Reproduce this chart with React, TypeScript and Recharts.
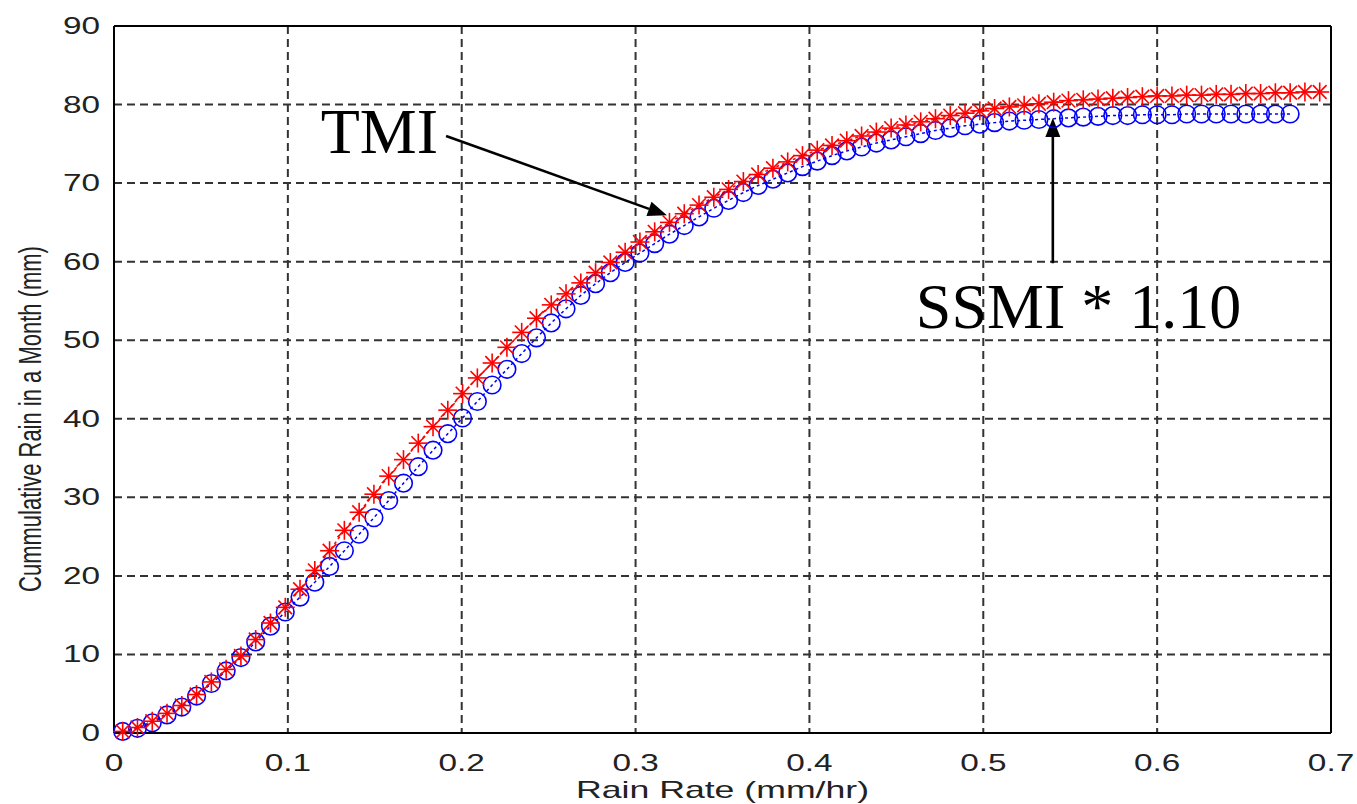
import React from "react";
import {
  LineChart, Line, XAxis, YAxis, CartesianGrid, ReferenceLine,
} from "recharts";

// rain rate (mm/hr) at each marker
const RATE = [
  0.0050, 0.0135, 0.0220, 0.0305, 0.0390, 0.0475, 0.0560, 0.0645, 0.0730, 0.0815,
  0.0900, 0.0985, 0.1070, 0.1155, 0.1240, 0.1325, 0.1410, 0.1495, 0.1580, 0.1665,
  0.1750, 0.1835, 0.1920, 0.2005, 0.2090, 0.2175, 0.2260, 0.2345, 0.2430, 0.2515,
  0.2600, 0.2685, 0.2770, 0.2855, 0.2940, 0.3025, 0.3110, 0.3195, 0.3280, 0.3365,
  0.3450, 0.3535, 0.3620, 0.3705, 0.3790, 0.3875, 0.3960, 0.4045, 0.4130, 0.4215,
  0.4300, 0.4385, 0.4470, 0.4555, 0.4640, 0.4725, 0.4810, 0.4895, 0.4980, 0.5065,
  0.5150, 0.5235, 0.5320, 0.5405, 0.5490, 0.5575, 0.5660, 0.5745, 0.5830, 0.5915,
  0.6000, 0.6085, 0.6170, 0.6255, 0.6340, 0.6425, 0.6510, 0.6595, 0.6680, 0.6765,
  0.6850, 0.6935,
];

// cumulative rain (mm), SSMI * 1.10
const SSMI = [
  0.2, 0.6, 1.3, 2.3, 3.3, 4.7, 6.3, 7.9, 9.6, 11.6,
  13.6, 15.4, 17.3, 19.2, 21.2, 23.2, 25.3, 27.4, 29.6, 31.8,
  33.9, 36.0, 38.1, 40.1, 42.2, 44.3, 46.3, 48.3, 50.3, 52.2,
  54.0, 55.7, 57.2, 58.6, 59.9, 61.1, 62.3, 63.5, 64.6, 65.7,
  66.8, 67.8, 68.8, 69.7, 70.5, 71.3, 72.1, 72.8, 73.5, 74.1,
  74.6, 75.1, 75.5, 75.9, 76.3, 76.7, 77.0, 77.3, 77.5, 77.7,
  77.9, 78.0, 78.1, 78.2, 78.3, 78.4, 78.5, 78.6, 78.6, 78.7,
  78.7, 78.7, 78.8, 78.8, 78.8, 78.8, 78.8, 78.8, 78.8, 78.8,
];

// cumulative rain (mm), TMI
const TMI = [
  0.2, 0.7, 1.5, 2.5, 3.5, 4.9, 6.5, 8.1, 9.8, 11.9,
  14.0, 16.0, 18.3, 20.7, 23.2, 25.8, 28.1, 30.4, 32.7, 34.8,
  36.9, 39.0, 41.1, 43.2, 45.2, 47.1, 49.1, 51.0, 52.8, 54.5,
  55.9, 57.3, 58.6, 59.9, 61.2, 62.5, 63.8, 65.0, 66.1, 67.2,
  68.2, 69.2, 70.2, 71.1, 71.9, 72.7, 73.5, 74.2, 74.8, 75.4,
  76.0, 76.5, 77.0, 77.4, 77.8, 78.2, 78.6, 78.9, 79.2, 79.5,
  79.7, 79.9, 80.1, 80.3, 80.5, 80.6, 80.7, 80.8, 80.9, 81.0,
  81.1, 81.1, 81.2, 81.2, 81.3, 81.3, 81.4, 81.4, 81.5, 81.5,
  81.6, 81.6,
];

const X_TICKS = [0, 0.1, 0.2, 0.3, 0.4, 0.5, 0.6, 0.7];
const Y_TICKS = [0, 10, 20, 30, 40, 50, 60, 70, 80, 90];

const ssmiData = SSMI.map((y, i) => ({ x: RATE[i], y }));
const tmiData = TMI.map((y, i) => ({ x: RATE[i], y }));

const FONT = "'Liberation Sans', Arial, sans-serif";
const SERIF = "'Liberation Serif', 'Times New Roman', serif";

function Circle(props: any) {
  const { cx, cy } = props;
  if (cx == null || cy == null) return null;
  return <circle cx={cx} cy={cy} r={8.8} fill="none" stroke="#0000ff" strokeWidth={1.6} />;
}

function Star(props: any) {
  const { cx, cy } = props;
  if (cx == null || cy == null) return null;
  const r = 9.5;
  const d = r * 0.72;
  return (
    <g stroke="#ff0000" strokeWidth={1.6}>
      <line x1={cx - r} y1={cy} x2={cx + r} y2={cy} />
      <line x1={cx} y1={cy - r} x2={cx} y2={cy + r} />
      <line x1={cx - d} y1={cy - d} x2={cx + d} y2={cy + d} />
      <line x1={cx - d} y1={cy + d} x2={cx + d} y2={cy - d} />
    </g>
  );
}

function XTick(props: any) {
  const { x, y, payload } = props;
  return (
    <text transform={`translate(${x},${y + 22}) scale(1.45,1)`} textAnchor="middle" dy="0.35em"
      fontFamily={FONT} fontSize={23} fill="#222">
      {payload.value}
    </text>
  );
}

function YTick(props: any) {
  const { y, payload } = props;
  return (
    <text transform={`translate(100,${y}) scale(1.45,1)`} textAnchor="end" dy="0.35em"
      fontFamily={FONT} fontSize={23} fill="#222">
      {payload.value}
    </text>
  );
}

function arrow(text: string, dx: number, dy: number, anchor: string) {
  return (p: any) => {
    const { x1, y1, x2, y2 } = p;
    const ang = Math.atan2(y2 - y1, x2 - x1);
    const L = 19, W = 7.5;
    const bx = x2 - L * Math.cos(ang), by = y2 - L * Math.sin(ang);
    const nx = -Math.sin(ang), ny = Math.cos(ang);
    return (
      <g>
        <line x1={x1} y1={y1} x2={bx} y2={by} stroke="#000" strokeWidth={2.6} />
        <polygon points={`${x2},${y2} ${bx + nx * W},${by + ny * W} ${bx - nx * W},${by - ny * W}`} fill="#000" />
        <text x={x1 + dx} y={y1 + dy} textAnchor={anchor} fontFamily={SERIF} fontSize={64} fill="#000">
          {text}
        </text>
      </g>
    );
  };
}

export default function App() {
  return (
    <div style={{ position: "absolute", left: 0, top: 0, width: 1357, height: 804, background: "#fff" }}>
      <LineChart width={1357} height={804} margin={{ top: 26, right: 26, left: 0, bottom: 0 }}>
        <CartesianGrid stroke="#333" strokeWidth={2} strokeDasharray="8 5" />
        <XAxis dataKey="x" type="number" domain={[0, 0.7]} ticks={X_TICKS} height={71}
          axisLine={{ stroke: "#000", strokeWidth: 2 }} tickLine={false} tick={<XTick />}
          label={{
            content: (lp: any) => {
              const vb = lp.viewBox;
              return (
                <text transform={`translate(${vb.x + vb.width / 2},798) scale(1.55,1)`} textAnchor="middle"
                  fontFamily={FONT} fontSize={23} fill="#222">Rain Rate (mm/hr)</text>
              );
            },
          }} />
        <YAxis type="number" domain={[0, 90]} ticks={Y_TICKS} width={114}
          axisLine={{ stroke: "#000", strokeWidth: 2 }} tickLine={false} tick={<YTick />}
          label={{
            content: () => (
              <text transform="translate(41,419) rotate(-90) scale(1,1.45)" textAnchor="middle"
                fontFamily={FONT} fontSize={22} fill="#222">Cummulative Rain in a Month (mm)</text>
            ),
          }} />
        <ReferenceLine y={90} stroke="#000" strokeWidth={2} />
        <ReferenceLine x={0.7} stroke="#000" strokeWidth={2} />
        <Line data={ssmiData} dataKey="y" stroke="#0000ff" strokeWidth={1.5} strokeDasharray="3 3"
          dot={<Circle />} activeDot={false} isAnimationActive={false} />
        <Line data={tmiData} dataKey="y" stroke="#ff0000" strokeWidth={1.5} strokeDasharray="3 3"
          dot={<Star />} activeDot={false} isAnimationActive={false} />
        <ReferenceLine segment={[{ x: 0.191, y: 76.0 }, { x: 0.318, y: 65.9 }]}
          shape={arrow("TMI", -8, 17, "end")} />
        <ReferenceLine segment={[{ x: 0.540, y: 59.8 }, { x: 0.540, y: 78.3 }]}
          shape={arrow("SSMI * 1.10", -137, 65, "start")} />
      </LineChart>
    </div>
  );
}
